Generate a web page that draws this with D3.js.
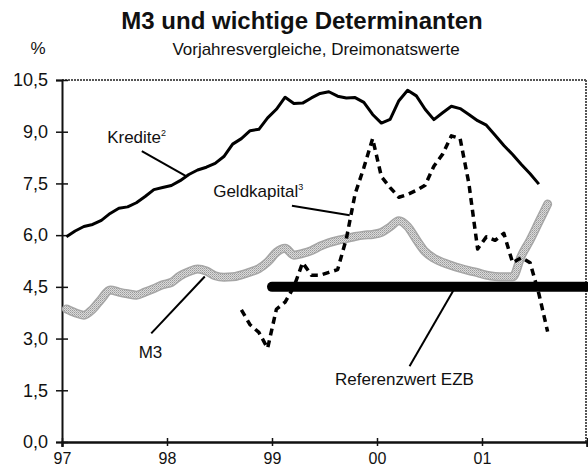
<!DOCTYPE html>
<html>
<head>
<meta charset="utf-8">
<script src="https://d3js.org/d3.v7.min.js"></script>
<style>
  body { margin: 0; background: #fff; }
  svg text { font-family: "Liberation Sans", Arial, Helvetica, sans-serif; fill: #111; }
</style>
</head>
<body>
<script>
// monthly values, first point = Jan 1997 (mid-month)
var startYear = 1997;
var kredite = [5.95, 6.12, 6.25, 6.31, 6.43, 6.63, 6.78, 6.82, 6.94, 7.12, 7.32, 7.38,
  7.44, 7.58, 7.76, 7.89, 7.97, 8.08, 8.28, 8.64, 8.80, 9.03, 9.07, 9.40,
  9.65, 10.0, 9.82, 9.83, 9.98, 10.11, 10.16, 10.03, 9.98, 9.99, 9.85, 9.50,
  9.25, 9.36, 9.90, 10.2, 10.04, 9.65, 9.35, 9.55, 9.74, 9.67, 9.50, 9.32,
  9.19, 8.90, 8.60, 8.34, 8.05, 7.78, 7.48];
var m3 = [3.86, 3.75, 3.68, 3.85, 4.15, 4.41, 4.35, 4.30, 4.26, 4.35, 4.45, 4.56,
  4.63, 4.82, 4.94, 5.02, 4.96, 4.82, 4.78, 4.79, 4.85, 4.93, 5.03, 5.22,
  5.50, 5.62, 5.42, 5.47, 5.55, 5.68, 5.78, 5.85, 5.90, 5.96, 6.00, 6.02,
  6.08, 6.24, 6.42, 6.25, 5.87, 5.52, 5.33, 5.21, 5.12, 5.04, 4.97, 4.91,
  4.84, 4.80, 4.79, 4.79, 5.40, 5.86, 6.38, 6.90];
// Geldkapital starts in Sep 1998 (month index 20)
var geldStart = 20;
var geldkapital = [3.83, 3.40, 3.18, 2.72, 3.85, 4.06, 4.50, 5.20, 4.84, 4.84, 4.92, 5.00,
  5.90, 7.20, 7.96, 8.80, 7.70, 7.38, 7.10, 7.18, 7.30, 7.45, 8.00, 8.35,
  8.88, 8.80, 7.50, 5.60, 5.95, 5.85, 6.05, 5.20, 5.35, 5.20, 4.30, 3.20];
var referenzwert = 4.5;
var referenzVon = 1999, referenzBis = 2002;

var yTicks = [0, 1.5, 3, 4.5, 6, 7.5, 9, 10.5];
var xTicks = [1997, 1998, 1999, 2000, 2001, 2002];
var xTickLabels = ["97", "98", "99", "00", "01", ""];

var W = 588, H = 466;
var svg = d3.select("body").append("svg").attr("width", W).attr("height", H);

var defs = svg.append("defs");
var pat = defs.append("pattern").attr("id", "stipple").attr("patternUnits", "userSpaceOnUse")
  .attr("width", 2).attr("height", 2);
pat.append("rect").attr("width", 2).attr("height", 2).attr("fill", "#dadada");
pat.append("rect").attr("width", 1).attr("height", 1).attr("fill", "#9a9a9a");
pat.append("rect").attr("x", 1).attr("y", 1).attr("width", 1).attr("height", 1).attr("fill", "#b4b4b4");

var x = d3.scaleLinear().domain([1997, 2002]).range([62, 587]);
var y = d3.scaleLinear().domain([0, 10.5]).range([442, 80]);

function monthX(i) { return startYear + (i + 0.5) / 12; }

// titles
svg.append("text").attr("x", 302).attr("y", 29).attr("text-anchor", "middle")
  .style("font-size", "24px").style("font-weight", "bold").text("M3 und wichtige Determinanten");
svg.append("text").attr("x", 316).attr("y", 55).attr("text-anchor", "middle")
  .style("font-size", "17px").text("Vorjahresvergleiche, Dreimonatswerte");
svg.append("text").attr("x", 38).attr("y", 54).attr("text-anchor", "middle")
  .style("font-size", "17px").text("%");

// frame top / right (grey, rough)
svg.append("line").attr("x1", x(1997)).attr("x2", x(2002)).attr("y1", y(10.5)).attr("y2", y(10.5))
  .attr("stroke", "#555").attr("stroke-width", 2).attr("stroke-dasharray", "2,1");
svg.append("line").attr("x1", x(2002) - 1).attr("x2", x(2002) - 1).attr("y1", y(10.5)).attr("y2", y(0))
  .attr("stroke", "#555").attr("stroke-width", 2).attr("stroke-dasharray", "2,1");

// y axis
var yAxis = svg.append("g").attr("transform", "translate(" + x(1997) + ",0)")
  .call(d3.axisLeft(y).tickValues(yTicks).tickSize(6).tickPadding(8)
    .tickFormat(function (d) { return d3.format(".1f")(d).replace(".", ","); }));
yAxis.select(".domain").attr("stroke", "#111").attr("stroke-width", 2);
yAxis.selectAll(".tick line").attr("x1", -6).attr("x2", 6).attr("stroke", "#111").attr("stroke-width", 1.5);
yAxis.selectAll(".tick text").style("font-size", "18px").attr("fill", "#111");

// x axis
var xAxis = svg.append("g").attr("transform", "translate(0," + y(0) + ")")
  .call(d3.axisBottom(x).tickValues(xTicks).tickSize(5).tickPadding(6)
    .tickFormat(function (d, i) { return xTickLabels[i]; }));
xAxis.select(".domain").attr("stroke", "#111").attr("stroke-width", 2.5);
xAxis.selectAll(".tick line").attr("y1", -4).attr("y2", 4).attr("stroke", "#111").attr("stroke-width", 1.5);
xAxis.selectAll(".tick text").style("font-size", "16px").attr("fill", "#111");

var line = d3.line().x(function (d) { return x(d[0]); }).y(function (d) { return y(d[1]); });

// M3 (thick grey, stippled)
var m3Data = m3.map(function (v, i) { return [monthX(i), v]; });
var m3Line = d3.line().curve(d3.curveMonotoneX).x(function (d) { return x(d[0]); }).y(function (d) { return y(d[1]); });
svg.append("path").datum(m3Data).attr("d", m3Line).attr("fill", "none")
  .attr("stroke", "#a6a6a6").attr("stroke-width", 9).attr("stroke-linejoin", "round").attr("stroke-linecap", "round");
svg.append("path").datum(m3Data).attr("d", m3Line).attr("fill", "none")
  .attr("stroke", "url(#stipple)").attr("stroke-width", 6).attr("stroke-linejoin", "round").attr("stroke-linecap", "round");

// Referenzwert EZB
svg.append("line").attr("x1", x(referenzVon)).attr("x2", x(referenzBis))
  .attr("y1", y(referenzwert)).attr("y2", y(referenzwert))
  .attr("stroke", "#000").attr("stroke-width", 10).attr("stroke-linecap", "round");

// Kredite
svg.append("path").datum(kredite.map(function (v, i) { return [monthX(i), v]; }))
  .attr("d", line).attr("fill", "none").attr("stroke", "#000").attr("stroke-width", 3)
  .attr("stroke-linejoin", "round");

// Geldkapital (dashed)
svg.append("path").datum(geldkapital.map(function (v, i) { return [monthX(i + geldStart), v]; }))
  .attr("d", line).attr("fill", "none").attr("stroke", "#000").attr("stroke-width", 3.5)
  .attr("stroke-dasharray", "7,5").attr("stroke-linejoin", "round");

// annotations: label position, leader line (data coords)
var notes = [
  { t: "Kredite", sup: "2", lx: 1997.43, ly: 8.67, from: [1997.76, 8.44], to: [1998.19, 7.70] },
  { t: "Geldkapital", sup: "3", lx: 1998.44, ly: 7.10, from: [1999.19, 6.85], to: [1999.74, 6.58] },
  { t: "M3", sup: "", lx: 1997.73, ly: 2.44, from: [1997.85, 3.15], to: [1998.36, 4.80] },
  { t: "Referenzwert EZB", sup: "", lx: 1999.60, ly: 1.65, from: [2000.31, 2.20], to: [2000.73, 4.41] }
];
notes.forEach(function (n) {
  svg.append("line").attr("x1", x(n.from[0])).attr("y1", y(n.from[1]))
    .attr("x2", x(n.to[0])).attr("y2", y(n.to[1]))
    .attr("stroke", "#000").attr("stroke-width", 2);
  var t = svg.append("text").attr("x", x(n.lx)).attr("y", y(n.ly)).style("font-size", "17px").text(n.t);
  if (n.sup) t.append("tspan").attr("dy", -7).style("font-size", "9px").text(n.sup);
});
</script>
</body>
</html>
